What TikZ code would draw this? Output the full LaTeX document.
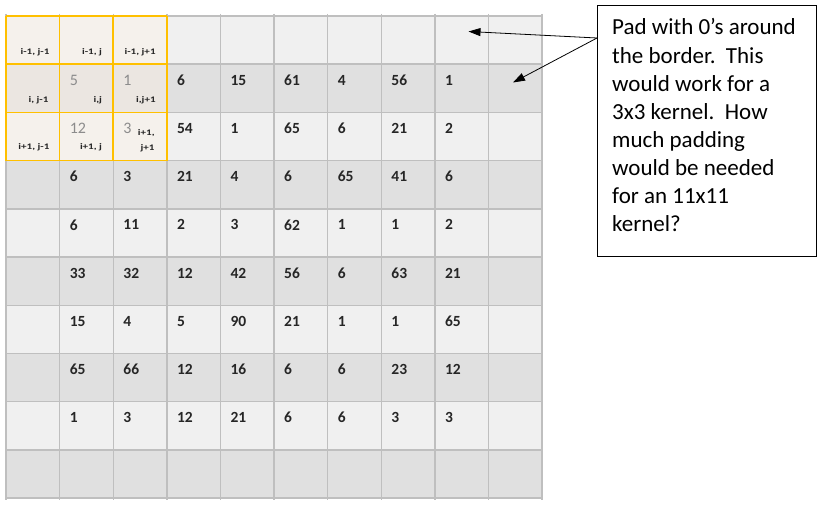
\documentclass[tikz,border=0pt]{standalone}
\usepackage{fontspec}
\setmainfont{Carlito}
\usetikzlibrary{arrows.meta}
\definecolor{gline}{HTML}{BFBFBF}
\definecolor{lightc}{HTML}{F0F0F0}
\definecolor{darkc}{HTML}{E0E0E0}
\definecolor{klight}{HTML}{F5F1EC}
\definecolor{kdark}{HTML}{EBE6E1}
\definecolor{kyellow}{HTML}{FFC000}
\definecolor{numc}{HTML}{262626}
\definecolor{grayn}{HTML}{8C8C8C}
\tikzset{
  cellbox/.style={draw=none, inner sep=0pt, outer sep=0pt, anchor=north west,
    minimum width=53.6pt, minimum height=48.2pt},
  gridline/.style={draw=gline, line width=1.4pt},
  kline/.style={draw=kyellow, line width=1.5pt},
  num/.style={anchor=west, inner sep=0pt, text=numc, font=\fontsize{15.5}{18}\selectfont\bfseries},
  gnum/.style={anchor=west, inner sep=0pt, text=grayn, font=\fontsize{16}{19}\selectfont},
  lab/.style={anchor=south east, inner sep=0pt, text=numc, align=right,
    font=\fontsize{8.5}{15}\selectfont\bfseries},
  callout/.style={draw=black, line width=1pt, fill=white, inner sep=0pt,
    minimum width=219pt, minimum height=251pt, anchor=north west},
  calltext/.style={anchor=base west, inner sep=0pt,
    font=\fontsize{23}{28.1}\selectfont},
  arr/.style={draw=black, line width=0.8pt, -{Triangle[length=12pt,width=8pt]}}
}
\newcommand{\wlab}[1]{\scalebox{1.3}[1]{#1}}
\begin{document}
\begin{tikzpicture}[x=1pt,y=-1pt]
\path[use as bounding box, fill=white] (0,0) rectangle (822,508);
% cells
\foreach \r in {0,...,9}{
  \foreach \c in {0,...,9}{
    \pgfmathsetmacro\xa{6+\c*53.6}
    \pgfmathsetmacro\ya{16+\r*48.2}
    \ifodd\r \def\fc{darkc}\else\def\fc{lightc}\fi
    \ifnum\r<3 \ifnum\c<3 \ifodd\r \def\fc{kdark}\else\def\fc{klight}\fi\fi\fi
    \node[cellbox, fill=\fc] (c-\r-\c) at (\xa,\ya) {};
  }
}
% grid lines
\foreach \k in {0,...,10}{
  \pgfmathsetmacro\xx{6+\k*53.6}
  \draw[gridline] (\xx,14) -- (\xx,500);
}
\foreach \k in {0,...,10}{
  \pgfmathsetmacro\yy{16+\k*48.2}
  \draw[gridline] (6,\yy) -- (542,\yy);
}
% kernel outline
\foreach \k in {0,...,3}{
  \pgfmathsetmacro\xx{6+\k*53.6}
  \pgfmathsetmacro\yy{16+\k*48.2}
  \draw[kline] (\xx,16) -- (\xx,160.6);
  \draw[kline] (6,\yy) -- (166.8,\yy);
}
% numbers
\foreach \r/\row in {3/{6,3,21,4,6,65,41,6},4/{6,11,2,3,62,1,1,2},5/{33,32,12,42,56,6,63,21},
  6/{15,4,5,90,21,1,1,65},7/{65,66,12,16,6,6,23,12},8/{1,3,12,21,6,6,3,3}}{
  \foreach \v [count=\c] in \row {
    \node[num] (n-\r-\c) at ([shift={(10,16)}]c-\r-\c.north west) {\v};
  }
}
\foreach \r/\row in {1/{6,15,61,4,56,1},2/{54,1,65,6,21,2}}{
  \foreach \v [count=\i] in \row {
    \pgfmathtruncatemacro\c{\i+2}
    \node[num] (n-\r-\c) at ([shift={(10,16)}]c-\r-\c.north west) {\v};
  }
}
\node[gnum] (n-1-1) at ([shift={(10,16)}]c-1-1.north west) {5};
\node[gnum] (n-1-2) at ([shift={(10,16)}]c-1-2.north west) {1};
\node[gnum] (n-2-1) at ([shift={(10,16)}]c-2-1.north west) {12};
\node[gnum] (n-2-2) at ([shift={(10,16)}]c-2-2.north west) {3};
% kernel labels
\node[lab] (l-0-0) at ([shift={(-10,-8)}]c-0-0.south east) {\wlab{i-1, j-1}};
\node[lab] (l-0-1) at ([shift={(-11,-8)}]c-0-1.south east) {\wlab{i-1, j}};
\node[lab] (l-0-2) at ([shift={(-11,-8)}]c-0-2.south east) {\wlab{i-1, j+1}};
\node[lab] (l-1-0) at ([shift={(-11,-8)}]c-1-0.south east) {\wlab{i, j-1}};
\node[lab] (l-1-1) at ([shift={(-11,-8)}]c-1-1.south east) {\wlab{i,j}};
\node[lab] (l-1-2) at ([shift={(-11,-8)}]c-1-2.south east) {\wlab{i,j+1}};
\node[lab] (l-2-0) at ([shift={(-10,-9)}]c-2-0.south east) {\wlab{i+1, j-1}};
\node[lab] (l-2-1) at ([shift={(-11,-9)}]c-2-1.south east) {\wlab{i+1, j}};
\node[lab] (l-2-2) at ([shift={(-12,-8)}]c-2-2.south east) {\wlab{i+1,}\\\wlab{j+1}};
% callout
\node[callout] (box) at (597,5) {};
\node[calltext] (boxtext) at (612,35) {\parbox[t]{200pt}{\raggedright Pad with 0’s around\\the border.\ \ This\\would work for a\\3x3 kernel.\ \ How\\much padding\\would be needed\\for an 11x11\\kernel?}};
\coordinate (src) at (597,38);
\coordinate (tipA) at (468.5,31.5);
\coordinate (tipB) at (513,82.5);
\draw[arr] (src) -- (tipA);
\draw[arr] (src) -- (tipB);
\end{tikzpicture}
\end{document}
